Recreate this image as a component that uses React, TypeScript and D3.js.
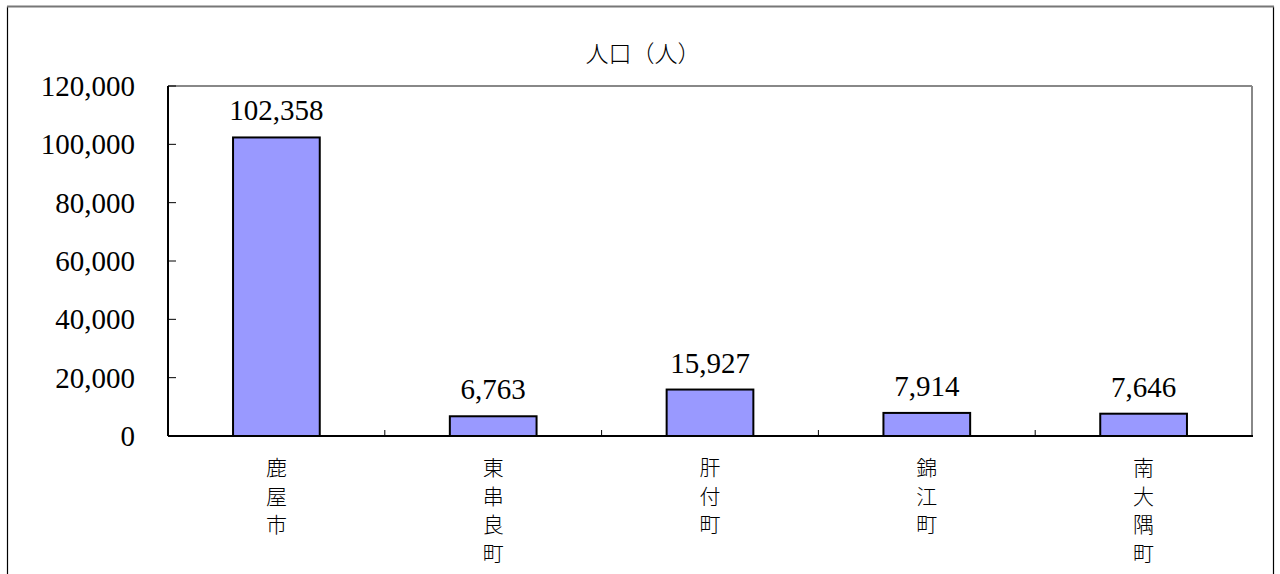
import * as d3 from "d3";

const categories = ["鹿屋市", "東串良町", "肝付町", "錦江町", "南大隅町"];
const populations = [102358, 6763, 15927, 7914, 7646];
const yTicks = [0, 20000, 40000, 60000, 80000, 100000, 120000];
const title = "人口（人）";

const W = 1280;
const H = 574;
const left = 168;
const right = 1252;
const top = 86;
const bottom = 436;

const numFont = "'Liberation Serif', 'DejaVu Serif', serif";
const cjkFont = "'Noto Sans CJK JP', sans-serif";

export default function App() {
	const x = d3.scaleBand<string>().domain(categories).range([left, right]).paddingInner(0.6).paddingOuter(0.3);
	const step = x.step();
	const y = d3.scaleLinear().domain([0, 120000]).range([bottom, top]);
	const fmt = d3.format(",");

	return (
		<svg width={W} height={H} style={{ position: "absolute", left: 0, top: 0 }}>
			<rect x={0} y={0} width={W} height={H} fill="#fff" />
			{/* outer frame */}
			<line x1={7.5} y1={6.5} x2={7.5} y2={H + 5} stroke="#000" strokeWidth={1.2} />
			<line x1={1273.5} y1={6.5} x2={1273.5} y2={H + 5} stroke="#000" strokeWidth={1.2} />
			<line x1={7} y1={6.5} x2={1274} y2={6.5} stroke="#777" strokeWidth={2} />

			<text x={643} y={62} textAnchor="middle" fontSize={23} fontWeight={300} fontFamily={cjkFont} fill="#000">
				{title}
			</text>

			{/* plot frame */}
			<line x1={left} y1={top} x2={right} y2={top} stroke="#888" strokeWidth={2} />
			<line x1={right} y1={top} x2={right} y2={bottom} stroke="#888" strokeWidth={2} />

			{yTicks.map((t) => (
				<g key={t}>
					<line x1={left} x2={left + 8} y1={y(t)} y2={y(t)} stroke="#000" strokeWidth={1} />
					<text
						x={135}
						y={y(t)}
						dy="0.35em"
						textAnchor="end"
						fontSize={29}
						fontFamily={numFont}
						fill="#000"
					>
						{fmt(t)}
					</text>
				</g>
			))}

			{categories.slice(1).map((c) => {
				const bx = (x(c) as number) - step * 0.3;
				return <line key={c} x1={bx} x2={bx} y1={bottom} y2={bottom - 6} stroke="#000" strokeWidth={1} />;
			})}

			{categories.map((c, i) => {
				const bx = x(c) as number;
				const v = populations[i];
				return (
					<g key={c}>
						<rect
							x={bx}
							y={y(v)}
							width={x.bandwidth()}
							height={bottom - y(v)}
							fill="#9999ff"
							stroke="#000"
							strokeWidth={2}
						/>
						<text
							x={bx + x.bandwidth() / 2}
							y={y(v) - 17}
							textAnchor="middle"
							fontSize={29}
							fontFamily={numFont}
							fill="#000"
						>
							{fmt(v)}
						</text>
						{Array.from(c).map((ch, j) => (
							<text
								key={j}
								x={bx + x.bandwidth() / 2}
								y={475 + j * 28.5}
								textAnchor="middle"
								fontSize={21}
								fontWeight={300}
								fontFamily={cjkFont}
								fill="#000"
							>
								{ch}
							</text>
						))}
					</g>
				);
			})}

			{/* axes */}
			<line x1={left} y1={top} x2={left} y2={bottom} stroke="#000" strokeWidth={2} />
			<line x1={left} y1={bottom} x2={right + 1} y2={bottom} stroke="#000" strokeWidth={2} />
		</svg>
	);
}
